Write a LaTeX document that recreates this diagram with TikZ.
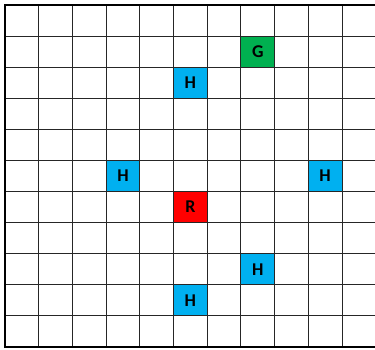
\documentclass[tikz,border=0pt]{standalone}
\usepackage{fontspec}
\setmainfont{Carlito}
\definecolor{gcell}{HTML}{00B050}
\definecolor{hcell}{HTML}{00B0F0}
\definecolor{rcell}{HTML}{FF0000}
\begin{document}
\begin{tikzpicture}[x=1pt,y=-1pt,
  cellbox/.style={minimum width=33.7pt,minimum height=31.09pt,inner sep=0pt,font=\fontsize{18}{18}\selectfont\bfseries,text=black},
  gridline/.style={line width=0.9pt,black!85},
  borderline/.style={line width=2.2pt,black}]
\useasboundingbox (0,0) rectangle (375,350);
\def\cw{33.7}
\def\rh{31.09}
\node[cellbox,fill=gcell] (G) at ({5+\cw*7.5},{5+\rh*1.5}) {G};
\node[cellbox,fill=hcell] (H1) at ({5+\cw*5.5},{5+\rh*2.5}) {H};
\node[cellbox,fill=hcell] (H2) at ({5+\cw*3.5},{5+\rh*5.5}) {H};
\node[cellbox,fill=hcell] (H3) at ({5+\cw*9.5},{5+\rh*5.5}) {H};
\node[cellbox,fill=rcell] (R) at ({5+\cw*5.5},{5+\rh*6.5}) {R};
\node[cellbox,fill=hcell] (H4) at ({5+\cw*7.5},{5+\rh*8.5}) {H};
\node[cellbox,fill=hcell] (H5) at ({5+\cw*5.5},{5+\rh*9.5}) {H};
% grid
\foreach \i in {1,...,10} \draw[gridline] ({5+\cw*\i},5) -- ({5+\cw*\i},347);
\foreach \j in {1,...,10} \draw[gridline] (5,{5+\rh*\j}) -- (375,{5+\rh*\j});
% border
\draw[borderline] (375,5) -- (5,5) -- (5,347) -- (375,347);
\end{tikzpicture}
\end{document}
